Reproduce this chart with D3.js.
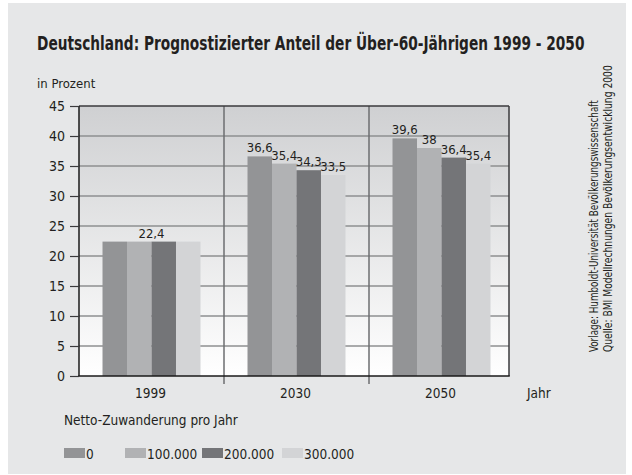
<!DOCTYPE html>
<html>
<head>
  <meta charset="UTF-8">
  <style>
    body {
      margin: 0;
      padding: 0;
      background: #fff;
    }
    svg text {
      font-family: "Liberation Sans Narrow", "DejaVu Sans Condensed", "Open Sans", sans-serif;
      fill: #231f20;
    }
  </style>
</head>
<body>
  <svg></svg>
  <script src="https://d3js.org/d3.v7.min.js"></script>

  <script>
    // chart data
    const years = ["1999", "2030", "2050"];
    const seriesNames = ["0", "100.000", "200.000", "300.000"];
    const share0 = [22.4, 36.6, 39.6];
    const share100k = [22.4, 35.4, 38];
    const share200k = [22.4, 34.3, 36.4];
    const share300k = [22.4, 33.5, 35.4];
    const yTicks = [0, 5, 10, 15, 20, 25, 30, 35, 40, 45];
    const colors = ["#939496", "#b1b2b4", "#747578", "#d3d4d6"];

    const seriesValues = [share0, share100k, share200k, share300k];

    const width = 632, height = 475;
    const margin = { left: 79, right: 509, top: 106, bottom: 376 };

    const svg = d3.select("svg")
        .attr("width", width)
        .attr("height", height);

    const de = d3.formatLocale({ decimal: ",", thousands: ".", grouping: [3], currency: ["", " €"] });
    const fmt = de.format(",");

    // squeeze a text horizontally so it spans the given width
    function fitText(sel, x0, y0, w, rot) {
        const natural = sel.node().getComputedTextLength();
        const k = w / natural;
        sel.attr("transform", `translate(${x0},${y0})${rot ? " rotate(-90)" : ""} scale(${k},1)`);
    }

    // gradient for the plot area
    const grad = svg.append("defs").append("linearGradient")
        .attr("id", "plotbg")
        .attr("x1", 0).attr("y1", 0).attr("x2", 0).attr("y2", 1);
    grad.append("stop").attr("offset", "0%").attr("stop-color", "#cfd0d2");
    grad.append("stop").attr("offset", "100%").attr("stop-color", "#ffffff");

    // page background
    svg.append("rect")
        .attr("x", 8).attr("y", 3)
        .attr("width", 618).attr("height", 471)
        .attr("fill", "#e6e7e8");

    const title = svg.append("text")
        .attr("font-size", 19)
        .attr("font-weight", "bold")
        .text("Deutschland: Prognostizierter Anteil der Über-60-Jährigen 1999 - 2050");
    fitText(title, 37, 50, 548, false);

    svg.append("text")
        .attr("x", 37).attr("y", 88)
        .attr("font-size", 13)
        .text("in Prozent");

    const y = d3.scaleLinear()
        .domain([0, 45])
        .range([margin.bottom, margin.top]);

    const x = d3.scaleBand()
        .domain(years)
        .range([margin.left, 514])
        .paddingInner(0);

    const xs = d3.scaleBand()
        .domain(seriesNames)
        .range([0, x.bandwidth()])
        .paddingInner(0)
        .paddingOuter(0.96);

    // plot background
    svg.append("rect")
        .attr("x", margin.left).attr("y", margin.top)
        .attr("width", margin.right - margin.left)
        .attr("height", margin.bottom - margin.top)
        .attr("fill", "url(#plotbg)");

    // gridlines
    svg.append("g")
        .selectAll("line")
        .data(yTicks.filter(d => d > 0 && d < 45))
        .enter()
        .append("line")
        .attr("x1", margin.left).attr("x2", margin.right)
        .attr("y1", d => y(d)).attr("y2", d => y(d))
        .attr("stroke", "#8e8f91")
        .attr("stroke-width", 1.5);

    // group dividers
    svg.append("g")
        .selectAll("line")
        .data(years.slice(1))
        .enter()
        .append("line")
        .attr("x1", d => x(d)).attr("x2", d => x(d))
        .attr("y1", margin.top).attr("y2", 384)
        .attr("stroke", "#6d6e70")
        .attr("stroke-width", 1.5);

    // bars
    const groups = svg.append("g")
        .selectAll("g")
        .data(years)
        .enter()
        .append("g")
        .attr("transform", d => `translate(${x(d)},0)`);

    groups.selectAll("rect")
        .data((d, i) => seriesNames.map((s, j) => ({ s, j, v: seriesValues[j][i] })))
        .enter()
        .append("rect")
        .attr("x", d => xs(d.s))
        .attr("width", xs.bandwidth())
        .attr("y", d => y(d.v))
        .attr("height", d => y(0) - y(d.v))
        .attr("fill", d => colors[d.j]);

    // value labels (one label when all values in a group are equal)
    groups.each(function(year, i) {
        const vals = seriesValues.map(s => s[i]);
        const g = d3.select(this);
        if (vals.every(v => v === vals[0])) {
            g.append("text")
                .attr("x", x.bandwidth() / 2)
                .attr("y", y(vals[0]) - 4)
                .attr("text-anchor", "middle")
                .attr("font-size", 13)
                .text(fmt(vals[0]));
        } else {
            g.selectAll("text")
                .data(vals)
                .enter()
                .append("text")
                .attr("x", (d, j) => xs(seriesNames[j]) + xs.bandwidth() / 2)
                .attr("y", d => y(d) - 4)
                .attr("text-anchor", "middle")
                .attr("font-size", 13)
                .text(d => fmt(d));
        }
    });

    // frame
    svg.append("line")
        .attr("x1", margin.left).attr("x2", margin.right)
        .attr("y1", margin.top).attr("y2", margin.top)
        .attr("stroke", "#3a3a3c").attr("stroke-width", 1.5);
    svg.append("line")
        .attr("x1", margin.right).attr("x2", margin.right)
        .attr("y1", margin.top).attr("y2", margin.bottom)
        .attr("stroke", "#3a3a3c").attr("stroke-width", 1.5);
    svg.append("line")
        .attr("x1", margin.left).attr("x2", margin.left)
        .attr("y1", margin.top).attr("y2", margin.bottom)
        .attr("stroke", "#1a1a1a").attr("stroke-width", 1.5);
    svg.append("line")
        .attr("x1", margin.left - 0.75).attr("x2", margin.right + 0.75)
        .attr("y1", margin.bottom).attr("y2", margin.bottom)
        .attr("stroke", "#1a1a1a").attr("stroke-width", 1.5);

    // y axis
    const yAxis = svg.append("g")
        .attr("transform", `translate(${margin.left},0)`)
        .call(d3.axisLeft(y).tickValues(yTicks).tickSize(9).tickPadding(5));
    yAxis.select(".domain").remove();
    yAxis.selectAll(".tick line").attr("stroke", "#3a3a3c").attr("stroke-width", 1.2);
    yAxis.selectAll(".tick text")
        .attr("font-size", 14)
        .attr("fill", "#231f20");

    // x labels
    svg.append("g")
        .selectAll("text")
        .data(years)
        .enter()
        .append("text")
        .attr("x", d => x(d) + x.bandwidth() / 2 - 1)
        .attr("y", 398)
        .attr("text-anchor", "middle")
        .attr("font-size", 13.5)
        .text(d => d);

    svg.append("text")
        .attr("x", 527).attr("y", 398)
        .attr("font-size", 13.5)
        .text("Jahr");

    // legend
    svg.append("text")
        .attr("x", 64).attr("y", 425)
        .attr("font-size", 13.5)
        .text("Netto-Zuwanderung pro Jahr");

    const legendX = [64, 125, 202, 282];
    const legend = svg.append("g")
        .selectAll("g")
        .data(seriesNames)
        .enter()
        .append("g")
        .attr("transform", (d, i) => `translate(${legendX[i]},448)`);
    legend.append("rect")
        .attr("width", 21).attr("height", 10)
        .attr("fill", (d, i) => colors[i]);
    legend.append("text")
        .attr("x", 22).attr("y", 10.5)
        .attr("font-size", 13.5)
        .text(d => d);

    // source notes
    const note1 = svg.append("text")
        .attr("font-size", 11.5)
        .text("Vorlage: Humboldt-Universität  Bevölkerungswissenschaft");
    fitText(note1, 598, 352, 252, true);
    const note2 = svg.append("text")
        .attr("font-size", 11.5)
        .text("Quelle: BMI Modellrechnungen  Bevölkerungsentwicklung 2000");
    fitText(note2, 612, 352, 287, true);
  </script>
</body>
</html>
